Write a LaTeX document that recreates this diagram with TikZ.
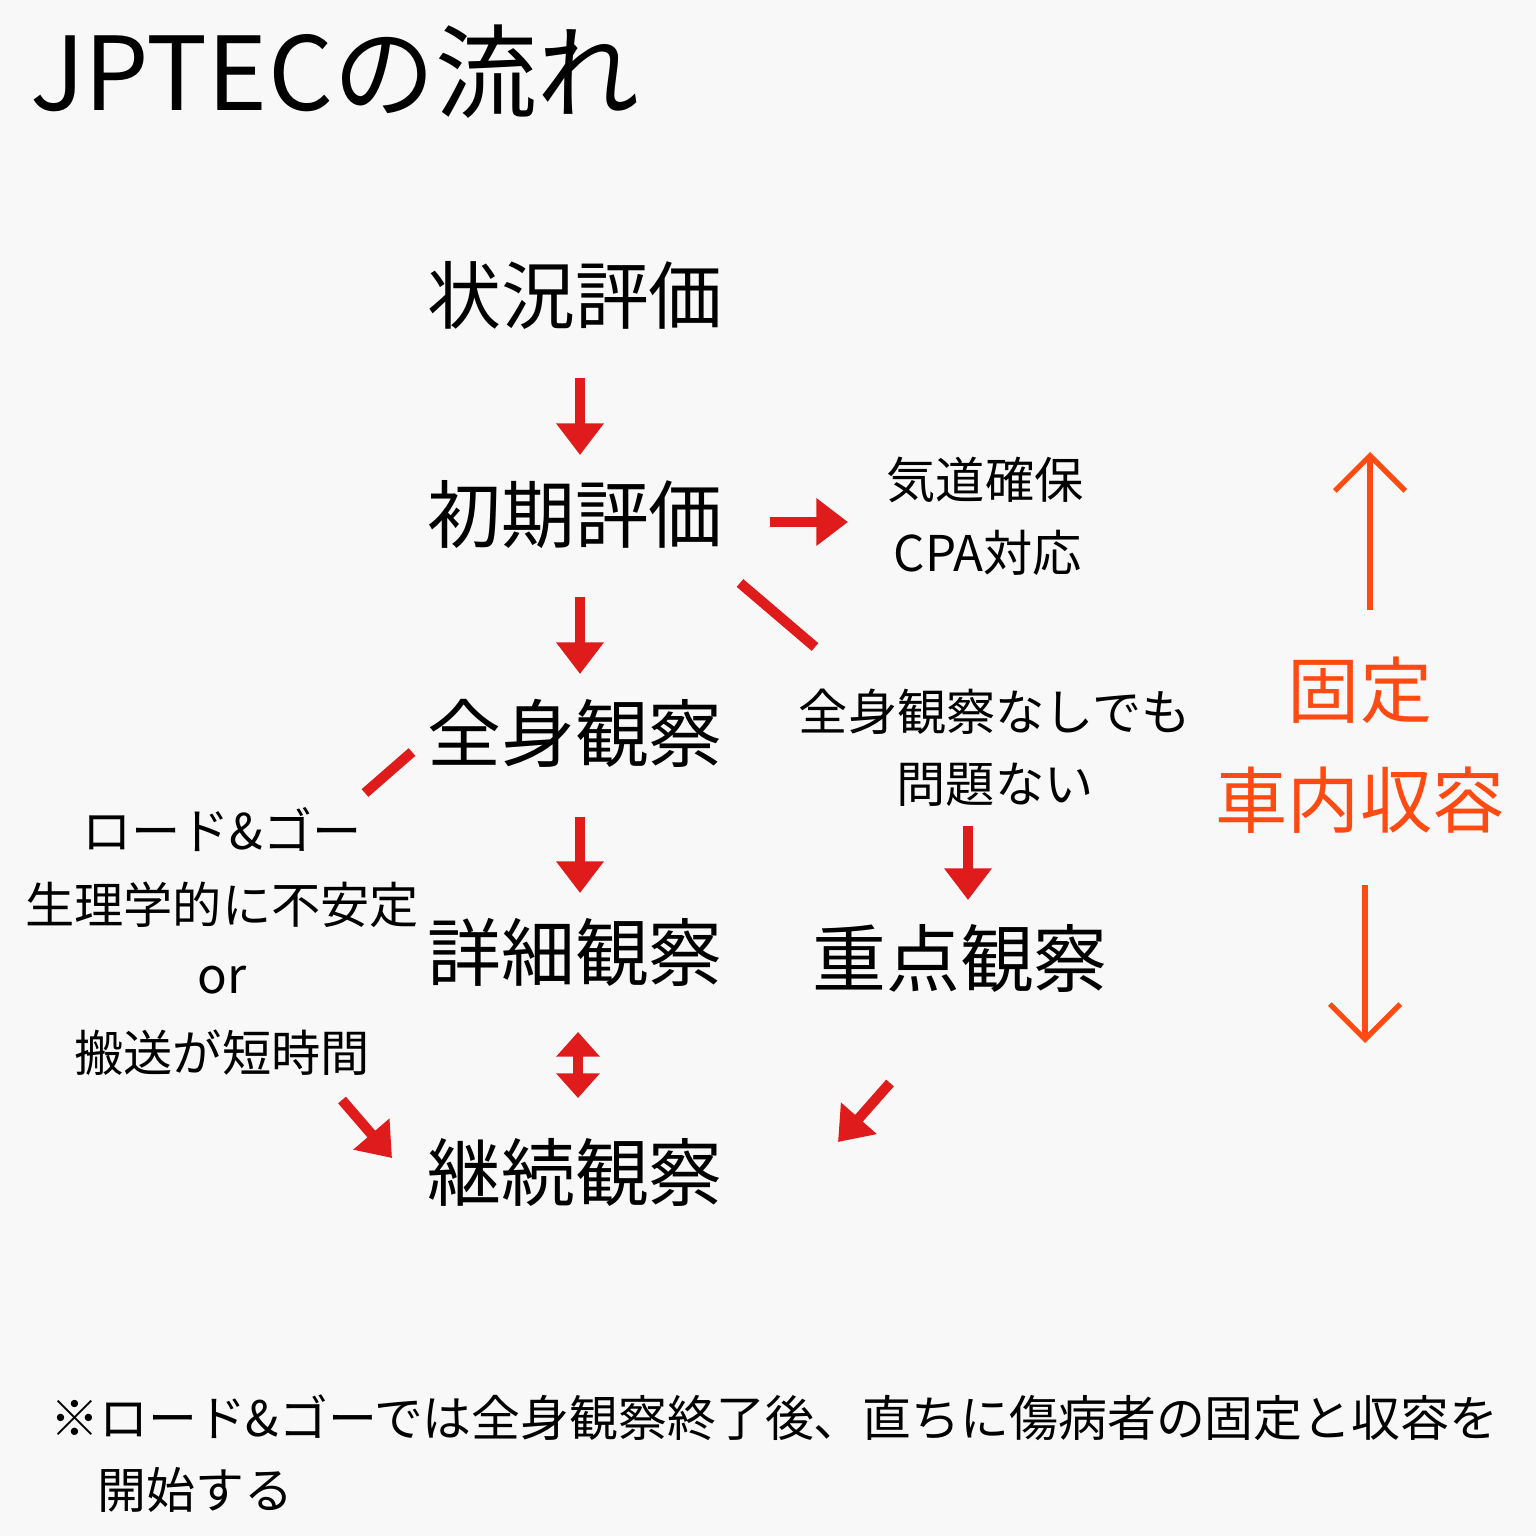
\documentclass[tikz,border=0pt]{standalone}
\usepackage{fontspec}
\setmainfont{Noto Sans CJK JP}
\usetikzlibrary{arrows.meta}
\definecolor{rd}{HTML}{E01B1B}
\definecolor{org}{HTML}{FF4A12}
\definecolor{bg}{HTML}{F8F8F8}
\begin{document}
\begin{tikzpicture}[x=0.01cm,y=-0.01cm,
  big/.style={font=\fontsize{21}{24}\selectfont},
  mid/.style={font=\fontsize{14}{16}\selectfont},
  ra/.style={draw=rd,line width=2.9pt,-{Triangle[length=9pt,width=13pt]}},
  rl/.style={draw=rd,line width=2.9pt},
  oa/.style={draw=org,line width=1.5pt,-{Straight Barb[length=10pt,width=20pt,line width=1.5pt]}},
  oc/.style={text=org,font=\fontsize{20.5}{24}\selectfont}]
\fill[bg] (0,0) rectangle (1536,1536);
\useasboundingbox (0,0) rectangle (1536,1536);
\node[anchor=west,font=\fontsize{29}{34}\selectfont] (title) at (18,72) {JPTECの流れ};
\node[big] (a) at (575,295) {状況評価};
\node[big] (b) at (575,515) {初期評価};
\node[big] (c) at (575,733) {全身観察};
\node[big] (d) at (575,952) {詳細観察};
\node[big] (e) at (575,1172) {継続観察};
\node[big] (f) at (960,958) {重点観察};
\node[mid] (g1) at (985,480) {気道確保};
\node[mid] (g2) at (988,553) {CPA対応};
\node[mid] (h1) at (995,712) {全身観察なしでも};
\node[mid] (h2) at (995,785) {問題ない};
\node[mid] (l1) at (222,830) {ロード\&ゴー};
\node[mid] (l2) at (222,905) {生理学的に不安定};
\node[mid] (l3) at (222,980) {or};
\node[mid] (l4) at (222,1053) {搬送が短時間};
\node[oc] (o1) at (1360,690) {固定};
\node[oc] (o2) at (1360,800) {車内収容};
\coordinate (p1) at (580,378); \coordinate (p2) at (580,455);
\coordinate (p3) at (770,522); \coordinate (p4) at (848,522);
\coordinate (p5) at (580,597); \coordinate (p6) at (580,674);
\coordinate (p7) at (740,583); \coordinate (p8) at (815,647);
\coordinate (p9) at (968,826); \coordinate (p10) at (968,900);
\coordinate (p11) at (580,817); \coordinate (p12) at (580,893);
\coordinate (p13) at (578,1032); \coordinate (p14) at (578,1098);
\coordinate (p15) at (412,752); \coordinate (p16) at (365,793);
\coordinate (p17) at (342,1100); \coordinate (p18) at (392,1158);
\coordinate (p19) at (890,1083); \coordinate (p20) at (838,1142);
\coordinate (q1) at (1370,610); \coordinate (q2) at (1370,452);
\coordinate (q3) at (1365,885); \coordinate (q4) at (1365,1043);
\draw[ra] (p1) -- (p2);
\draw[ra] (p3) -- (p4);
\draw[ra] (p5) -- (p6);
\draw[rl] (p7) -- (p8);
\draw[ra] (p9) -- (p10);
\draw[ra] (p11) -- (p12);
\draw[rd,line width=2.9pt,{Triangle[length=7pt,width=12pt]}-{Triangle[length=7pt,width=12pt]}] (p13) -- (p14);
\draw[rl] (p15) -- (p16);
\draw[ra] (p17) -- (p18);
\draw[ra] (p19) -- (p20);
\draw[oa] (q1) -- (q2);
\draw[oa] (q3) -- (q4);
\node[anchor=west,font=\fontsize{13.9}{16}\selectfont] (n1) at (38,1418) {※ロード\&ゴーでは全身観察終了後、直ちに傷病者の固定と収容を};
\node[anchor=west,font=\fontsize{13.9}{16}\selectfont] (n2) at (85,1490) {開始する};
\end{tikzpicture}
\end{document}
